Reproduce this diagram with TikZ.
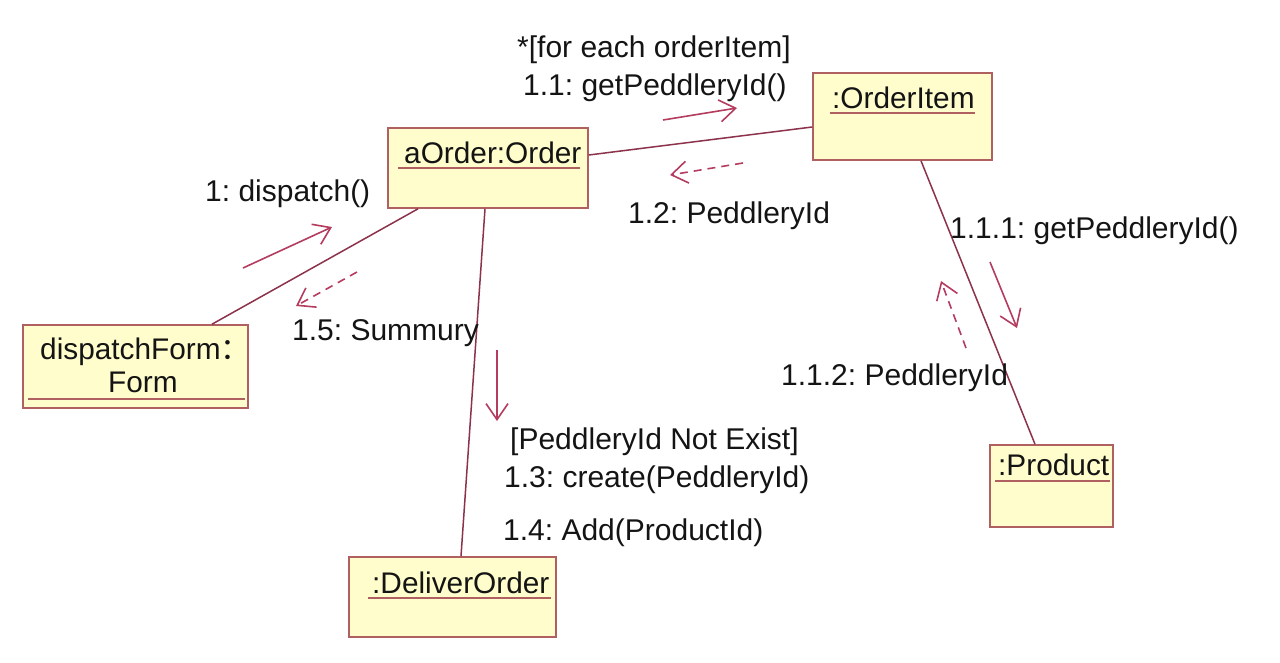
\documentclass[tikz,border=0pt]{standalone}
\usepackage{fontspec}
\setmainfont{Liberation Sans}
\newfontfamily\cjk{Noto Sans CJK SC}
\usetikzlibrary{arrows.meta}
\frenchspacing
\definecolor{boxfill}{RGB}{255,253,204}
\definecolor{boxdraw}{RGB}{176,96,96}
\definecolor{linkc}{RGB}{140,50,75}
\definecolor{msgc}{RGB}{180,60,95}
\definecolor{txt}{RGB}{20,20,20}
\tikzset{
  obj/.style={draw=boxdraw, fill=boxfill, line width=1.6pt, rectangle, inner sep=0pt},
  ttl/.style={inner sep=0pt, anchor=base west, text=txt, font=\fontsize{29.8}{34}\selectfont},
  lbl/.style={inner sep=0pt, anchor=base west, text=txt, font=\fontsize{30}{34}\selectfont},
  uline/.style={draw=boxdraw, line width=1.5pt},
  link/.style={draw=linkc, line width=1.5pt},
  msg/.style={draw=msgc, line width=1.6pt, -{Straight Barb[length=16pt,width=22pt,line width=1.6pt]}},
  ret/.style={msg, dash pattern=on 8pt off 6pt},
}
\begin{document}
\begin{tikzpicture}[x=1pt,y=-1pt]
\useasboundingbox[fill=white] (0,0) rectangle (1280,662);

% objects
\node[obj, minimum width=200pt, minimum height=80pt] (order) at (488,168) {};
\node[obj, minimum width=179pt, minimum height=87pt] (item) at (902.5,116.5) {};
\node[obj, minimum width=225pt, minimum height=83pt] (form) at (135.5,366.5) {};
\node[obj, minimum width=207pt, minimum height=80pt] (deliver) at (452.5,597) {};
\node[obj, minimum width=123pt, minimum height=82pt] (product) at (1051.5,486) {};

% titles
\node[ttl] (ordert) at (404,163) {aOrder:Order};
\draw[uline] (398,168) -- (580,168);
\node[ttl] (itemt) at (832,108) {:OrderItem};
\draw[uline] (830,113) -- (975,113);
\node[ttl] (formt1) at (40,359) {dispatchForm{\cjk ：}};
\node[ttl] (formt2) at (108,392) {Form};
\draw[uline] (28,399) -- (245,399);
\node[ttl] (delivert) at (372,593) {:DeliverOrder};
\draw[uline] (368,598) -- (551,598);
\node[ttl] (productt) at (998,475) {:Product};
\draw[uline] (995,481) -- (1110,481);

% links
\draw[link] ([yshift=13pt]order.east) -- ([yshift=-10.5pt]item.west);
\draw[link] ([xshift=76.5pt]form.north) -- ([xshift=-70pt]order.south);
\draw[link] ([xshift=-3pt]order.south) -- ([xshift=8.5pt]deliver.north);
\draw[link] ([xshift=18.5pt]item.south) -- ([xshift=-16.5pt]product.north);

% message arrows
\coordinate (m11a) at (663,120); \coordinate (m11b) at (737,108);
\draw[msg] (m11a) -- (m11b);
\coordinate (m12a) at (743,163); \coordinate (m12b) at (670,175);
\draw[ret] (m12a) -- (m12b);
\coordinate (m1a) at (243,268); \coordinate (m1b) at (332,227);
\draw[msg] (m1a) -- (m1b);
\coordinate (m15a) at (357,272); \coordinate (m15b) at (296,306);
\draw[ret] (m15a) -- (m15b);
\coordinate (m13a) at (497,350); \coordinate (m13b) at (497,421);
\draw[msg] (m13a) -- (m13b);
\coordinate (m111a) at (990,262); \coordinate (m111b) at (1017,328);
\draw[msg] (m111a) -- (m111b);
\coordinate (m112a) at (966,348); \coordinate (m112b) at (941,281);
\draw[ret] (m112a) -- (m112b);

% labels
\node[lbl] (l0) at (517,57) {*[for each orderItem]};
\node[lbl] (l11) at (523,95) {1.1: getPeddleryId()};
\node[lbl] (l12) at (628,223) {1.2: PeddleryId};
\node[lbl] (l1) at (205,201) {1: dispatch()};
\node[lbl] (l15) at (292,340) {1.5: Summury};
\node[lbl] (l111) at (950,238) {1.1.1: getPeddleryId()};
\node[lbl] (l112) at (781,385) {1.1.2: PeddleryId};
\node[lbl] (lg) at (510,449) {[PeddleryId Not Exist]};
\node[lbl] (l13) at (504,487) {1.3: create(PeddleryId)};
\node[lbl] (l14) at (503,540) {1.4: Add(ProductId)};
\end{tikzpicture}
\end{document}
